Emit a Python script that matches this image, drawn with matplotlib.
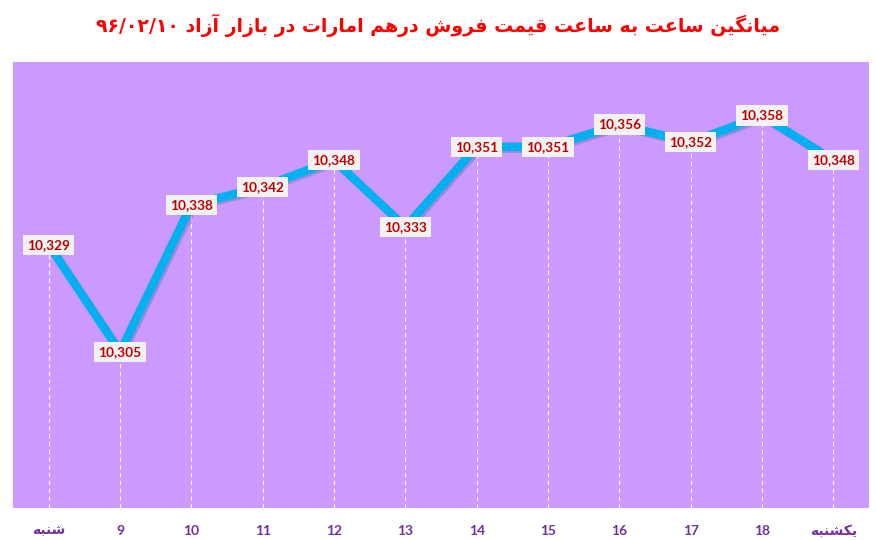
import matplotlib
matplotlib.use("Agg")
import matplotlib.pyplot as plt
import matplotlib.patheffects as pe

# data
hours = ["شنبه", "9", "10", "11", "12", "13", "14", "15", "16", "17", "18", "یکشنبه"]
prices = [10329, 10305, 10338, 10342, 10348, 10333, 10351, 10351, 10356, 10352, 10358, 10348]
title = "میانگین ساعت به ساعت قیمت فروش درهم امارات در بازار آزاد"
date = "۹۶/۰۲/۱۰"

# matplotlib has no arabic shaping, so do it by hand with presentation forms
# (isolated, final, initial, medial) ; None = letter does not join forward
FORMS = {
    "ا": ("\uFE8D", "\uFE8E", None, None),
    "آ": ("\uFE81", "\uFE82", None, None),
    "ب": ("\uFE8F", "\uFE90", "\uFE91", "\uFE92"),
    "ت": ("\uFE95", "\uFE96", "\uFE97", "\uFE98"),
    "د": ("\uFEA9", "\uFEAA", None, None),
    "ر": ("\uFEAD", "\uFEAE", None, None),
    "ز": ("\uFEAF", "\uFEB0", None, None),
    "س": ("\uFEB1", "\uFEB2", "\uFEB3", "\uFEB4"),
    "ش": ("\uFEB5", "\uFEB6", "\uFEB7", "\uFEB8"),
    "ع": ("\uFEC9", "\uFECA", "\uFECB", "\uFECC"),
    "ف": ("\uFED1", "\uFED2", "\uFED3", "\uFED4"),
    "ق": ("\uFED5", "\uFED6", "\uFED7", "\uFED8"),
    "م": ("\uFEE1", "\uFEE2", "\uFEE3", "\uFEE4"),
    "ن": ("\uFEE5", "\uFEE6", "\uFEE7", "\uFEE8"),
    "ه": ("\uFEE9", "\uFEEA", "\uFEEB", "\uFEEC"),
    "و": ("\uFEED", "\uFEEE", None, None),
    "ی": ("\uFBFC", "\uFBFD", "\uFBFE", "\uFBFF"),
    "گ": ("\uFB92", "\uFB93", "\uFB94", "\uFB95"),
    "ک": ("\uFB8E", "\uFB8F", "\uFB90", "\uFB91"),
}


def fa(text):
    if not any(c in FORMS for c in text):
        return text
    out = []
    for i, c in enumerate(text):
        if c not in FORMS:
            out.append(c)
            continue
        f = FORMS[c]
        prev = text[i - 1] if i > 0 else None
        nxt = text[i + 1] if i + 1 < len(text) else None
        jp = prev in FORMS and FORMS[prev][2] is not None
        jn = nxt in FORMS and f[2] is not None
        if jp and jn:
            out.append(f[3])
        elif jp:
            out.append(f[1])
        elif jn:
            out.append(f[2])
        else:
            out.append(f[0])
    return "".join(out)[::-1]


fig = plt.figure(figsize=(8.76, 5.40), dpi=100)
ax = fig.add_axes([13 / 876, 32 / 540, 856 / 876, 446 / 540])
ax.set_facecolor("#CC99FF")

x = list(range(len(prices)))
ax.set_xlim(-0.5, len(prices) - 0.5)
ax.set_ylim(10270, 10370)

ax.vlines(x, 10270, prices, colors="white", linestyles=(0, (4, 3)), linewidth=0.8, zorder=1)
ax.plot(x, prices, color="#00B0F0", linewidth=6, solid_capstyle="butt", zorder=2,
        path_effects=[pe.SimpleLineShadow(offset=(1.5, -1.5), shadow_color="#5a7fb0", alpha=0.5),
                      pe.Normal()])

for xi, p in zip(x, prices):
    ax.text(xi, p, f"{p:,}", ha="center", va="center", fontsize=9.8, fontweight="bold",
            family="Lato", color="#C00000", zorder=3,
            bbox=dict(boxstyle="square,pad=0.3", fc="#F2F2F2", ec="none"))

ax.set_xticks(x)
ax.set_xticklabels([fa(h) for h in hours], color="#7030A0", fontweight="bold", fontsize=10,
                   family=["Lato", "DejaVu Sans"])
ax.tick_params(axis="x", length=0, pad=12)
ax.set_yticks([])
for s in ax.spines.values():
    s.set_visible(False)

fig.text(0.5, 1 - 25 / 540, date + " " + fa(title), ha="center", va="center",
         fontsize=13.6, fontweight="bold", color="#FF0000", family=["DejaVu Sans"])

fig.savefig("out.png", dpi=100, facecolor="white")
